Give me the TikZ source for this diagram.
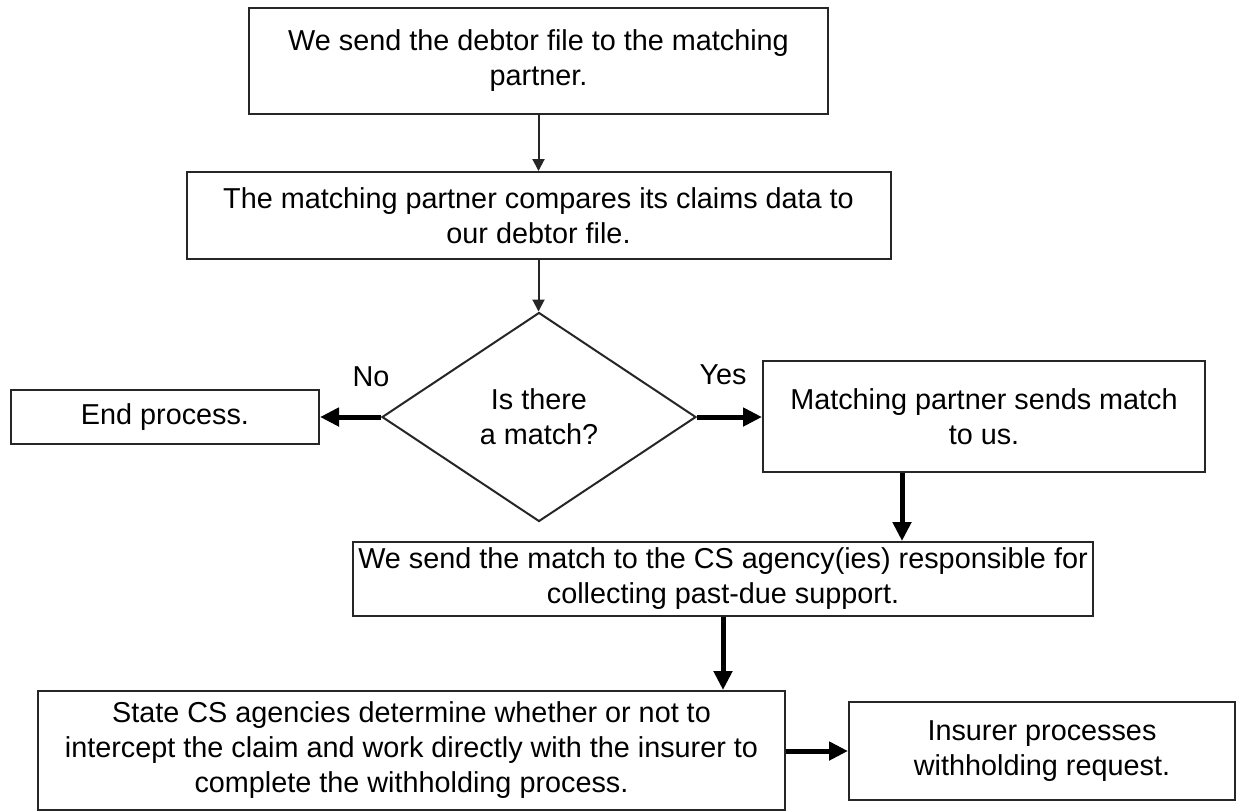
\documentclass[tikz,border=0pt]{standalone}
\usepackage{fontspec}
\setmainfont{Liberation Sans}
\usetikzlibrary{arrows.meta,shapes.geometric}
\begin{document}
\begin{tikzpicture}[x=0.5pt,y=-0.5pt,
        font=\fontsize{14.4}{17.5}\selectfont,
        procbox/.style={draw=black!85,line width=1pt,align=center,inner sep=0pt},
        thinarrow/.style={draw=black!85,line width=1pt,-{Triangle[length=6pt,width=6pt]}},
        thickarrow/.style={draw=black,line width=2.5pt,-{Triangle[length=9.5pt,width=9pt]}}]
                \useasboundingbox (0,0) rectangle (1238,811);

                \node[procbox,minimum width=289.5pt,minimum height=53pt] (send) at (538.5,61) {We send the debtor file to the matching\\partner.};
                \node[procbox,minimum width=352pt,minimum height=43.5pt] (compare) at (538.5,215.5) {The matching partner compares its claims data to\\our debtor file.};
                \node[procbox,diamond,minimum width=157pt,minimum height=104.5pt] (ismatch) at (539,417) {Is there\\a match?};
                \node[procbox,minimum width=154pt,minimum height=27pt] (endp) at (165,417) {End process.};
                \node[procbox,minimum width=221pt,minimum height=55.5pt] (partner) at (984,416.5) {Matching partner sends match\\to us.};
                \node[procbox,minimum width=370pt,minimum height=37pt] (agency) at (723,579) {We send the match to the CS agency(ies) responsible for\\collecting past-due support.};
                \node[procbox,minimum width=373.5pt,minimum height=59.5pt] (state) at (411.5,750.5) {State CS agencies determine whether or not to\\intercept the claim and work directly with the insurer to\\complete the withholding process.};
                \node[procbox,minimum width=193pt,minimum height=49pt] (insurer) at (1042,751) {Insurer processes\\withholding request.};

                \node (no) at (371,377) {No};
                \node (yes) at (723,375) {Yes};
                \coordinate (dropx) at (902,0);

                \draw[thinarrow] (send) to (compare); \draw[thinarrow] (compare) to (compare.south |- ismatch.north);
                \draw[thickarrow] (ismatch.west) to (ismatch.west -| endp.east); \draw[thickarrow] (ismatch.east) to (ismatch.east -| partner.west);
                \draw[thickarrow] (partner.south -| dropx) to (agency.north -| dropx);
                \draw[thickarrow] (agency.south) to (agency.south |- state.north);
                \draw[thickarrow] (state.east |- insurer) to (insurer.west);
            \end{tikzpicture}
\end{document}
